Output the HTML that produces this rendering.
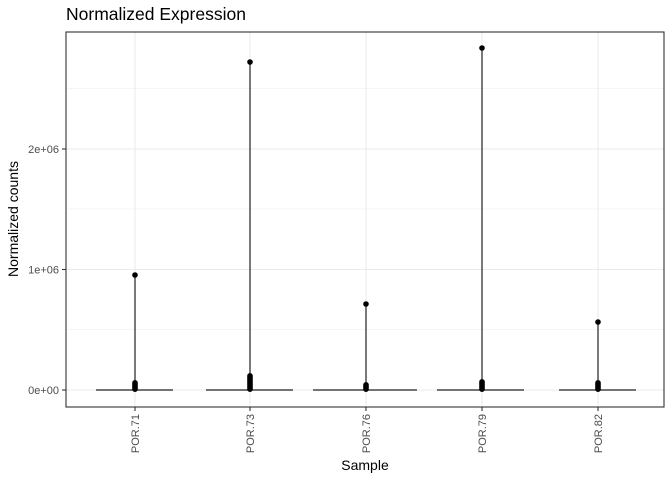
<!DOCTYPE html><html><head><style>body{margin:0;background:#fff}svg{display:block}</style></head><body>
<svg width="672" height="480" xmlns="http://www.w3.org/2000/svg" font-family="Liberation Sans, sans-serif">
<rect x="0" y="0" width="672" height="480" fill="#fff"/>
<g stroke="#ebebeb" stroke-width="0.6">
<line x1="66" x2="664" y1="329.5" y2="329.5"/><line x1="66" x2="664" y1="209" y2="209"/><line x1="66" x2="664" y1="88.5" y2="88.5"/>
</g>
<g stroke="#ebebeb" stroke-width="1.1">
<line x1="66" x2="664" y1="390" y2="390"/><line x1="66" x2="664" y1="269.5" y2="269.5"/><line x1="66" x2="664" y1="149" y2="149"/>
<line x1="135" x2="135" y1="32" y2="407"/><line x1="250" x2="250" y1="32" y2="407"/><line x1="366" x2="366" y1="32" y2="407"/><line x1="482" x2="482" y1="32" y2="407"/><line x1="598" x2="598" y1="32" y2="407"/>
</g>
<g stroke="#222" stroke-width="1.2">
<line x1="96" x2="173" y1="390" y2="390"/><line x1="135" x2="135" y1="275" y2="390"/>
<line x1="206" x2="293" y1="390" y2="390"/><line x1="250" x2="250" y1="62" y2="390"/>
<line x1="313" x2="417" y1="390" y2="390"/><line x1="366" x2="366" y1="304" y2="390"/>
<line x1="437" x2="524" y1="390" y2="390"/><line x1="482" x2="482" y1="48" y2="390"/>
<line x1="559" x2="636" y1="390" y2="390"/><line x1="598" x2="598" y1="322" y2="390"/>
</g>
<g fill="#000">
<circle cx="135" cy="275" r="2.8"/><circle cx="250" cy="62" r="2.8"/><circle cx="366" cy="304" r="2.8"/><circle cx="482" cy="48" r="2.8"/><circle cx="598" cy="322" r="2.8"/>
<rect x="132.2" y="380" width="5.6" height="12" rx="2.8"/>
<rect x="247.2" y="373" width="5.6" height="19" rx="2.8"/>
<rect x="363.2" y="382" width="5.6" height="10" rx="2.8"/>
<rect x="479.2" y="379" width="5.6" height="13" rx="2.8"/>
<rect x="595.2" y="380" width="5.6" height="12" rx="2.8"/>
</g>
<rect x="66" y="32" width="598" height="375" fill="none" stroke="#333" stroke-width="1.1"/>
<g stroke="#333" stroke-width="1.1">
<line x1="62" x2="66" y1="390" y2="390"/><line x1="62" x2="66" y1="269.5" y2="269.5"/><line x1="62" x2="66" y1="149" y2="149"/>
<line x1="135" x2="135" y1="407" y2="411"/><line x1="250" x2="250" y1="407" y2="411"/><line x1="366" x2="366" y1="407" y2="411"/><line x1="482" x2="482" y1="407" y2="411"/><line x1="598" x2="598" y1="407" y2="411"/>
</g>
<g font-size="11" fill="#4d4d4d" text-anchor="end">
<text x="59" y="394">0e+00</text><text x="59" y="273.5">1e+06</text><text x="59" y="153">2e+06</text>
</g>
<g font-size="11" fill="#4d4d4d" text-anchor="end">
<text transform="translate(139,414) rotate(-90)">POR.71</text>
<text transform="translate(254,414) rotate(-90)">POR.73</text>
<text transform="translate(370,414) rotate(-90)">POR.76</text>
<text transform="translate(486,414) rotate(-90)">POR.79</text>
<text transform="translate(602,414) rotate(-90)">POR.82</text>
</g>
<text x="365" y="470" font-size="14" text-anchor="middle">Sample</text>
<text transform="translate(18,219) rotate(-90)" font-size="14" text-anchor="middle">Normalized counts</text>
<text x="66" y="20" font-size="17.5">Normalized Expression</text>
</svg>
</body></html>
